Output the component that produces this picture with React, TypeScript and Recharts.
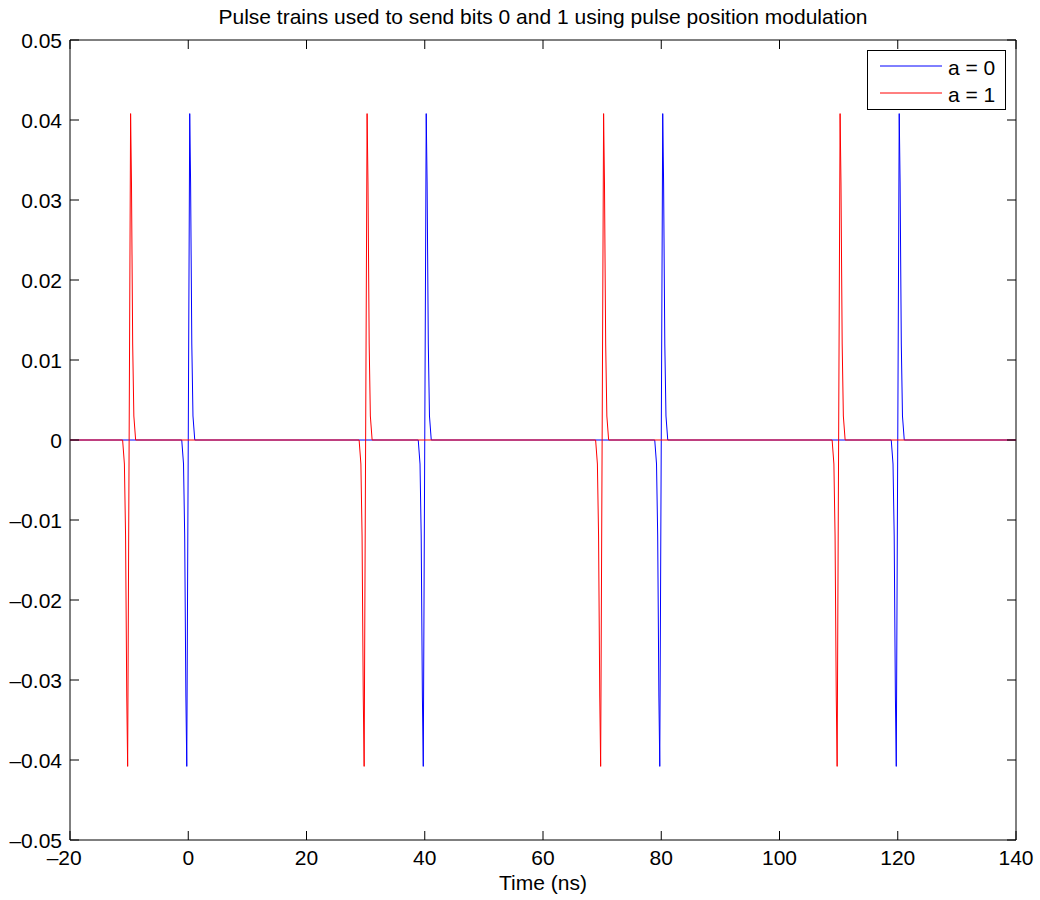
import React from 'react';
import { LineChart, Line, XAxis, YAxis, ReferenceArea, Legend } from 'recharts';

// pulse trains (time in ns, amplitude)
const blueTimes = [
  -20,
  -1.1, -0.8, -0.6, -0.4, -0.25, 0, 0.25, 0.4, 0.6, 0.8, 1.1,
  38.9, 39.2, 39.4, 39.6, 39.75, 40, 40.25, 40.4, 40.6, 40.8, 41.1,
  78.9, 79.2, 79.4, 79.6, 79.75, 80, 80.25, 80.4, 80.6, 80.8, 81.1,
  118.9, 119.2, 119.4, 119.6, 119.75, 120, 120.25, 120.4, 120.6, 120.8, 121.1,
  140,
];
const blueValues = [
  0,
  0, -0.003, -0.012, -0.032, -0.0408, 0, 0.0408, 0.032, 0.012, 0.003, 0,
  0, -0.003, -0.012, -0.032, -0.0408, 0, 0.0408, 0.032, 0.012, 0.003, 0,
  0, -0.003, -0.012, -0.032, -0.0408, 0, 0.0408, 0.032, 0.012, 0.003, 0,
  0, -0.003, -0.012, -0.032, -0.0408, 0, 0.0408, 0.032, 0.012, 0.003, 0,
  0,
];
const redTimes = [
  -20,
  -11.1, -10.8, -10.6, -10.4, -10.25, -10, -9.75, -9.6, -9.4, -9.2, -8.9,
  28.9, 29.2, 29.4, 29.6, 29.75, 30, 30.25, 30.4, 30.6, 30.8, 31.1,
  68.9, 69.2, 69.4, 69.6, 69.75, 70, 70.25, 70.4, 70.6, 70.8, 71.1,
  108.9, 109.2, 109.4, 109.6, 109.75, 110, 110.25, 110.4, 110.6, 110.8, 111.1,
  140,
];
const redValues = [
  0,
  0, -0.003, -0.012, -0.032, -0.0408, 0, 0.0408, 0.032, 0.012, 0.003, 0,
  0, -0.003, -0.012, -0.032, -0.0408, 0, 0.0408, 0.032, 0.012, 0.003, 0,
  0, -0.003, -0.012, -0.032, -0.0408, 0, 0.0408, 0.032, 0.012, 0.003, 0,
  0, -0.003, -0.012, -0.032, -0.0408, 0, 0.0408, 0.032, 0.012, 0.003, 0,
  0,
];

const xTicks = [-20, 0, 20, 40, 60, 80, 100, 120, 140];
const yTicks = [-0.05, -0.04, -0.03, -0.02, -0.01, 0, 0.01, 0.02, 0.03, 0.04, 0.05];

const title = 'Pulse trains used to send bits 0 and 1 using pulse position modulation';
const xLabel = 'Time (ns)';

const FONT = '"Liberation Sans", Arial, Helvetica, sans-serif';
const FS = 21;
const LEFT = 70;
const RIGHT = 1016;
const TOP = 40;
const BOTTOM = 840;
const TICK = 9;

const blueData = blueTimes.map((t, i) => ({ t, v: blueValues[i] }));
const redData = redTimes.map((t, i) => ({ t, v: redValues[i] }));

const fmtY = (v: number) => {
  if (Math.abs(v) < 1e-9) return '0';
  const s = Math.abs(v).toFixed(2);
  return v < 0 ? '\u2013' + s : s;
};

const YTick = (props: any) => {
  const { y, payload } = props;
  return (
    <g>
      <line x1={LEFT} x2={LEFT + TICK} y1={y} y2={y} stroke="#000" />
      <line x1={RIGHT} x2={RIGHT - TICK} y1={y} y2={y} stroke="#000" />
      <text x={62} y={y + 8} textAnchor="end" fontFamily={FONT} fontSize={FS} fill="#000">
        {fmtY(payload.value)}
      </text>
    </g>
  );
};

const XTick = (props: any) => {
  const { x, payload } = props;
  const v: number = payload.value;
  const digits = String(Math.abs(v));
  const half = (digits.length * 0.556 * FS) / 2;
  return (
    <g>
      <line x1={x} x2={x} y1={BOTTOM} y2={BOTTOM - TICK} stroke="#000" />
      <line x1={x} x2={x} y1={TOP} y2={TOP + TICK} stroke="#000" />
      <text x={x} y={BOTTOM + 25} textAnchor="middle" fontFamily={FONT} fontSize={FS} fill="#000">
        {digits}
      </text>
      {v < 0 && (
        <text x={x - half} y={BOTTOM + 25} textAnchor="end" fontFamily={FONT} fontSize={FS} fill="#000">
          {'\u2013'}
        </text>
      )}
    </g>
  );
};

const LegendBox = (props: any) => {
  const items = (props.payload || []).slice().sort((a: any, b: any) => (a.value < b.value ? -1 : 1));
  return (
    <div
      style={{
        width: 139,
        height: 60,
        border: '1px solid #000',
        background: '#fff',
        boxSizing: 'border-box',
      }}
    >
      <svg width={137} height={58} style={{ display: 'block' }}>
        {items.map((it: any, i: number) => (
          <g key={it.value}>
            <line x1={12} x2={74} y1={15 + i * 27} y2={15 + i * 27} stroke={it.color} />
            <text x={80} y={24 + i * 27} fontFamily={FONT} fontSize={FS} fill="#000">
              {it.value}
            </text>
          </g>
        ))}
      </svg>
    </div>
  );
};

export default function App() {
  return (
    <div style={{ position: 'absolute', left: 0, top: 0, width: 1040, height: 900, background: '#fff' }}>
      <LineChart width={1040} height={900} margin={{ top: TOP, right: 1040 - RIGHT, bottom: 30, left: 10 }}>
        <XAxis
          type="number"
          dataKey="t"
          domain={[-20, 140]}
          ticks={xTicks}
          interval={0}
          height={30}
          axisLine={false}
          tickLine={false}
          tick={<XTick />}
          allowDataOverflow
        />
        <YAxis
          type="number"
          dataKey="v"
          domain={[-0.05, 0.05]}
          ticks={yTicks}
          interval={0}
          width={60}
          axisLine={false}
          tickLine={false}
          tick={<YTick />}
          allowDataOverflow
        />
        <ReferenceArea x1={-20} x2={140} y1={-0.05} y2={0.05} fill="none" stroke="#000" strokeWidth={1} />
        <Line
          data={blueData}
          dataKey="v"
          name="a = 0"
          type="linear"
          stroke="#0000ff"
          strokeWidth={1}
          dot={false}
          isAnimationActive={false}
        />
        <Line
          data={redData}
          dataKey="v"
          name="a = 1"
          type="linear"
          stroke="#ff0000"
          strokeWidth={1}
          dot={false}
          isAnimationActive={false}
        />
        <Legend
          layout="vertical"
          align="center"
          verticalAlign="middle"
          content={<LegendBox />}
          wrapperStyle={{ position: 'absolute', left: 867, top: 50, width: 139, height: 60 }}
        />
        <text x={(LEFT + RIGHT) / 2} y={24} textAnchor="middle" fontFamily={FONT} fontSize={FS} fill="#000">
          {title}
        </text>
        <text x={(LEFT + RIGHT) / 2} y={890} textAnchor="middle" fontFamily={FONT} fontSize={FS} fill="#000">
          {xLabel}
        </text>
      </LineChart>
    </div>
  );
}
